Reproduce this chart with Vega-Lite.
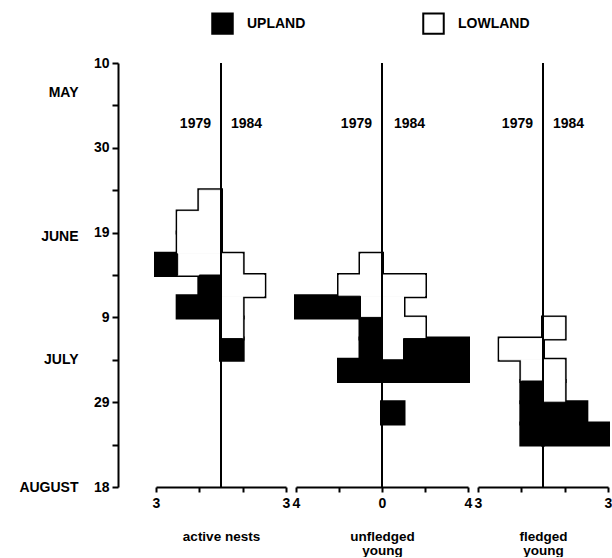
{
  "$schema": "https://vega.github.io/schema/vega-lite/v6.json",
  "padding": {"left": 18, "top": 12, "right": 0, "bottom": 0},
  "bounds": "flush",
  "spacing": 10,
  "config": {
    "font": "Liberation Sans",
    "view": {"stroke": null},
    "axis": {"grid": false, "domainColor": "black", "tickColor": "black", "labelColor": "black", "titleColor": "black", "domainWidth": 2, "tickWidth": 2, "labelFontWeight": "bold", "labelFontSize": 14, "titleFontWeight": "bold", "titleFontSize": 13.5, "labelOverlap": false}
  },
  "datasets": {
    "bars": [
      {"panel": "active nests", "year": 1979, "area": "LOWLAND", "start": "1984-06-09", "end": "1984-06-14", "count": 1},
      {"panel": "active nests", "year": 1979, "area": "LOWLAND", "start": "1984-06-14", "end": "1984-06-19", "count": 2},
      {"panel": "active nests", "year": 1979, "area": "LOWLAND", "start": "1984-06-19", "end": "1984-06-24", "count": 2},
      {"panel": "active nests", "year": 1979, "area": "LOWLAND", "start": "1984-06-24", "end": "1984-06-29", "count": 2},
      {"panel": "active nests", "year": 1979, "area": "UPLAND", "start": "1984-06-24", "end": "1984-06-29", "count": 1},
      {"panel": "active nests", "year": 1979, "area": "UPLAND", "start": "1984-06-29", "end": "1984-07-04", "count": 1},
      {"panel": "active nests", "year": 1979, "area": "UPLAND", "start": "1984-07-04", "end": "1984-07-09", "count": 2},
      {"panel": "active nests", "year": 1984, "area": "LOWLAND", "start": "1984-06-24", "end": "1984-06-29", "count": 1},
      {"panel": "active nests", "year": 1984, "area": "LOWLAND", "start": "1984-06-29", "end": "1984-07-04", "count": 2},
      {"panel": "active nests", "year": 1984, "area": "LOWLAND", "start": "1984-07-04", "end": "1984-07-09", "count": 1},
      {"panel": "active nests", "year": 1984, "area": "LOWLAND", "start": "1984-07-09", "end": "1984-07-14", "count": 1},
      {"panel": "active nests", "year": 1984, "area": "UPLAND", "start": "1984-07-14", "end": "1984-07-19", "count": 1},

      {"panel": "unfledged young", "year": 1979, "area": "LOWLAND", "start": "1984-06-24", "end": "1984-06-29", "count": 1},
      {"panel": "unfledged young", "year": 1979, "area": "LOWLAND", "start": "1984-06-29", "end": "1984-07-04", "count": 2},
      {"panel": "unfledged young", "year": 1979, "area": "LOWLAND", "start": "1984-07-04", "end": "1984-07-09", "count": 1},
      {"panel": "unfledged young", "year": 1979, "area": "UPLAND", "start": "1984-07-04", "end": "1984-07-09", "count": 3},
      {"panel": "unfledged young", "year": 1979, "area": "UPLAND", "start": "1984-07-09", "end": "1984-07-14", "count": 1},
      {"panel": "unfledged young", "year": 1979, "area": "UPLAND", "start": "1984-07-14", "end": "1984-07-19", "count": 1},
      {"panel": "unfledged young", "year": 1979, "area": "UPLAND", "start": "1984-07-19", "end": "1984-07-24", "count": 2},
      {"panel": "unfledged young", "year": 1984, "area": "LOWLAND", "start": "1984-06-29", "end": "1984-07-04", "count": 2},
      {"panel": "unfledged young", "year": 1984, "area": "LOWLAND", "start": "1984-07-04", "end": "1984-07-09", "count": 1},
      {"panel": "unfledged young", "year": 1984, "area": "LOWLAND", "start": "1984-07-09", "end": "1984-07-14", "count": 2},
      {"panel": "unfledged young", "year": 1984, "area": "LOWLAND", "start": "1984-07-14", "end": "1984-07-19", "count": 1},
      {"panel": "unfledged young", "year": 1984, "area": "UPLAND", "start": "1984-07-14", "end": "1984-07-19", "count": 3},
      {"panel": "unfledged young", "year": 1984, "area": "UPLAND", "start": "1984-07-19", "end": "1984-07-24", "count": 4},
      {"panel": "unfledged young", "year": 1984, "area": "UPLAND", "start": "1984-07-29", "end": "1984-08-03", "count": 1},

      {"panel": "fledged young", "year": 1979, "area": "LOWLAND", "start": "1984-07-14", "end": "1984-07-19", "count": 2},
      {"panel": "fledged young", "year": 1979, "area": "LOWLAND", "start": "1984-07-19", "end": "1984-07-24", "count": 1},
      {"panel": "fledged young", "year": 1979, "area": "UPLAND", "start": "1984-07-24", "end": "1984-07-29", "count": 1},
      {"panel": "fledged young", "year": 1979, "area": "UPLAND", "start": "1984-07-29", "end": "1984-08-03", "count": 1},
      {"panel": "fledged young", "year": 1979, "area": "UPLAND", "start": "1984-08-03", "end": "1984-08-08", "count": 1},
      {"panel": "fledged young", "year": 1984, "area": "LOWLAND", "start": "1984-07-09", "end": "1984-07-14", "count": 1},
      {"panel": "fledged young", "year": 1984, "area": "LOWLAND", "start": "1984-07-19", "end": "1984-07-24", "count": 1},
      {"panel": "fledged young", "year": 1984, "area": "LOWLAND", "start": "1984-07-24", "end": "1984-07-29", "count": 1},
      {"panel": "fledged young", "year": 1984, "area": "UPLAND", "start": "1984-07-29", "end": "1984-08-03", "count": 2},
      {"panel": "fledged young", "year": 1984, "area": "UPLAND", "start": "1984-08-03", "end": "1984-08-08", "count": 3}
    ]
  },
  "hconcat": [
    {
      "width": 130,
      "height": 424,
      "resolve": {"axis": {"y": "independent"}},
      "layer": [
        {
          "data": {"name": "bars"},
          "transform": [
            {"filter": "datum.panel == 'active nests'"},
            {"calculate": "datum.year == 1979 ? -datum.count : datum.count", "as": "value"},
            {"stack": "value", "groupby": ["year", "start"], "sort": [{"field": "area", "order": "ascending"}], "as": ["x0", "x1"]}
          ],
          "mark": {"type": "rect", "fill": "black", "stroke": "black", "strokeWidth": 4},
          "encoding": {
            "x": {"field": "x0", "type": "quantitative", "scale": {"domain": [-3, 3], "nice": false, "zero": false},
              "axis": {"values": [-3, -2, -1, 0, 1, 2, 3], "labelExpr": "abs(datum.value) == 3 || datum.value == 0 ? '' + abs(datum.value) : ''", "labelFlush": false, "tickSize": 5, "labelPadding": 4, "title": "active nests", "titlePadding": 19,
                "encode": {"ticks": {"update": {"y": {"signal": "abs(datum.value) == 3 ? -5 : 0"}}}}}},
            "x2": {"field": "x1"},
            "y": {"field": "start", "type": "temporal",
              "scale": {"type": "utc", "domain": [{"year": 1984, "month": "may", "date": 10, "utc": true}, {"year": 1984, "month": "aug", "date": 18, "utc": true}], "reverse": true},
              "axis": {"orient": "left", "values": [
                {"year": 1984, "month": "may", "date": 10, "utc": true}, {"year": 1984, "month": "may", "date": 20, "utc": true},
                {"year": 1984, "month": "may", "date": 30, "utc": true}, {"year": 1984, "month": "jun", "date": 9, "utc": true},
                {"year": 1984, "month": "jun", "date": 19, "utc": true}, {"year": 1984, "month": "jun", "date": 29, "utc": true},
                {"year": 1984, "month": "jul", "date": 9, "utc": true}, {"year": 1984, "month": "jul", "date": 19, "utc": true},
                {"year": 1984, "month": "jul", "date": 29, "utc": true}, {"year": 1984, "month": "aug", "date": 8, "utc": true},
                {"year": 1984, "month": "aug", "date": 18, "utc": true}],
                "labelExpr": "round((datum.value - utc(1984, 4, 10)) / 864e5) % 20 == 0 ? '' + utcdate(datum.value) : ''",
                "offset": 38, "tickSize": 6, "labelPadding": 3, "title": null}},
            "y2": {"field": "end"}
          }
        },
        {
          "data": {"name": "bars"},
          "transform": [
            {"filter": "datum.panel == 'active nests'"},
            {"calculate": "datum.year == 1979 ? -datum.count : datum.count", "as": "value"},
            {"stack": "value", "groupby": ["year", "start"], "sort": [{"field": "area", "order": "ascending"}], "as": ["x0", "x1"]}
          ],
          "mark": {"type": "rect", "strokeWidth": 1},
          "encoding": {
            "x": {"field": "x0", "type": "quantitative"},
            "x2": {"field": "x1"},
            "y": {"field": "start", "type": "temporal", "axis": null},
            "y2": {"field": "end"},
            "stroke": {"condition": {"test": "datum.area == 'UPLAND'", "value": "black"}, "value": "white"},
            "fill": {"field": "area", "type": "nominal", "scale": {"domain": ["UPLAND", "LOWLAND"], "range": ["black", "white"]},
              "legend": {"orient": "none", "legendX": 55, "legendY": -51, "direction": "horizontal", "title": null, "symbolType": "square", "symbolSize": 420, "symbolStrokeColor": "black", "symbolStrokeWidth": 2, "labelFontSize": 14, "labelFontWeight": "bold", "labelColor": "black", "columnPadding": 113, "labelOffset": 13}}
          }
        },
        {
          "data": {"values": [{}]},
          "mark": {"type": "rule", "color": "black", "strokeWidth": 2},
          "encoding": {
            "x": {"datum": 0, "type": "quantitative"},
            "y": {"datum": {"year": 1984, "month": "may", "date": 10, "utc": true}, "type": "temporal",
              "axis": {"orient": "left", "values": [{"year": 1984, "month": "may", "date": 17, "utc": true}, {"year": 1984, "month": "jun", "date": 20, "utc": true}, {"year": 1984, "month": "jul", "date": 19, "utc": true}, {"year": 1984, "month": "aug", "date": 18, "utc": true}],
                "labelExpr": "['JAN','FEB','MAR','APR','MAY','JUNE','JULY','AUGUST'][utcmonth(datum.value)]",
                "offset": 78, "domain": false, "ticks": false, "tickSize": 0, "labelPadding": 0, "title": null}},
            "y2": {"datum": {"year": 1984, "month": "aug", "date": 18, "utc": true}}
          }
        },
        {
          "data": {"values": [{}]},
          "mark": {"type": "text", "align": "right", "baseline": "middle", "dx": -10, "dy": 2, "fontSize": 14, "fontWeight": "bold", "color": "black"},
          "encoding": {
            "x": {"datum": 0, "type": "quantitative"},
            "y": {"datum": {"year": 1984, "month": "may", "date": 24, "utc": true}, "type": "temporal", "axis": null},
            "text": {"value": "1979"}
          }
        },
        {
          "data": {"values": [{}]},
          "mark": {"type": "text", "align": "left", "baseline": "middle", "dx": 10, "dy": 2, "fontSize": 14, "fontWeight": "bold", "color": "black"},
          "encoding": {
            "x": {"datum": 0, "type": "quantitative"},
            "y": {"datum": {"year": 1984, "month": "may", "date": 24, "utc": true}, "type": "temporal", "axis": null},
            "text": {"value": "1984"}
          }
        }
      ]
    },
    {
      "width": 172,
      "height": 424,
      "layer": [
        {
          "data": {"name": "bars"},
          "transform": [
            {"filter": "datum.panel == 'unfledged young'"},
            {"calculate": "datum.year == 1979 ? -datum.count : datum.count", "as": "value"},
            {"stack": "value", "groupby": ["year", "start"], "sort": [{"field": "area", "order": "ascending"}], "as": ["x0", "x1"]}
          ],
          "mark": {"type": "rect", "fill": "black", "stroke": "black", "strokeWidth": 4},
          "encoding": {
            "x": {"field": "x0", "type": "quantitative", "scale": {"domain": [-4, 4], "nice": false, "zero": false},
              "axis": {"values": [-4, -3, -2, -1, 0, 1, 2, 3, 4], "labelExpr": "abs(datum.value) == 4 || datum.value == 0 ? '' + abs(datum.value) : ''", "labelFlush": false, "tickSize": 5, "labelPadding": 4,
                "title": ["unfledged\u00a0\u00a0\u00a0\u00a0", "\u00a0\u00a0\u00a0\u00a0\u00a0\u00a0\u00a0\u00a0\u00a0\u00a0young"], "titlePadding": 19, "titleLineHeight": 14,
                "encode": {"ticks": {"update": {"y": {"signal": "abs(datum.value) == 4 ? -5 : 0"}}}}}},
            "x2": {"field": "x1"},
            "y": {"field": "start", "type": "temporal",
              "scale": {"type": "utc", "domain": [{"year": 1984, "month": "may", "date": 10, "utc": true}, {"year": 1984, "month": "aug", "date": 18, "utc": true}], "reverse": true},
              "axis": null},
            "y2": {"field": "end"}
          }
        },
        {
          "data": {"name": "bars"},
          "transform": [
            {"filter": "datum.panel == 'unfledged young'"},
            {"calculate": "datum.year == 1979 ? -datum.count : datum.count", "as": "value"},
            {"stack": "value", "groupby": ["year", "start"], "sort": [{"field": "area", "order": "ascending"}], "as": ["x0", "x1"]}
          ],
          "mark": {"type": "rect", "strokeWidth": 1},
          "encoding": {
            "x": {"field": "x0", "type": "quantitative"},
            "x2": {"field": "x1"},
            "y": {"field": "start", "type": "temporal", "axis": null},
            "y2": {"field": "end"},
            "stroke": {"condition": {"test": "datum.area == 'UPLAND'", "value": "black"}, "value": "white"},
            "fill": {"field": "area", "type": "nominal", "scale": {"domain": ["UPLAND", "LOWLAND"], "range": ["black", "white"]},
              "legend": {"orient": "none", "legendX": 55, "legendY": -51, "direction": "horizontal", "title": null, "symbolType": "square", "symbolSize": 420, "symbolStrokeColor": "black", "symbolStrokeWidth": 2, "labelFontSize": 14, "labelFontWeight": "bold", "labelColor": "black", "columnPadding": 113, "labelOffset": 13}}
          }
        },
        {
          "data": {"values": [{}]},
          "mark": {"type": "rule", "color": "black", "strokeWidth": 2},
          "encoding": {
            "x": {"datum": 0, "type": "quantitative"},
            "y": {"datum": {"year": 1984, "month": "may", "date": 10, "utc": true}, "type": "temporal"},
            "y2": {"datum": {"year": 1984, "month": "aug", "date": 18, "utc": true}}
          }
        },
        {
          "data": {"values": [{}]},
          "mark": {"type": "text", "align": "right", "baseline": "middle", "dx": -10, "dy": 2, "fontSize": 14, "fontWeight": "bold", "color": "black"},
          "encoding": {
            "x": {"datum": 0, "type": "quantitative"},
            "y": {"datum": {"year": 1984, "month": "may", "date": 24, "utc": true}, "type": "temporal"},
            "text": {"value": "1979"}
          }
        },
        {
          "data": {"values": [{}]},
          "mark": {"type": "text", "align": "left", "baseline": "middle", "dx": 12, "dy": 2, "fontSize": 14, "fontWeight": "bold", "color": "black"},
          "encoding": {
            "x": {"datum": 0, "type": "quantitative"},
            "y": {"datum": {"year": 1984, "month": "may", "date": 24, "utc": true}, "type": "temporal"},
            "text": {"value": "1984"}
          }
        }
      ]
    },
    {
      "width": 130,
      "height": 424,
      "layer": [
        {
          "data": {"name": "bars"},
          "transform": [
            {"filter": "datum.panel == 'fledged young'"},
            {"calculate": "datum.year == 1979 ? -datum.count : datum.count", "as": "value"},
            {"stack": "value", "groupby": ["year", "start"], "sort": [{"field": "area", "order": "ascending"}], "as": ["x0", "x1"]}
          ],
          "mark": {"type": "rect", "fill": "black", "stroke": "black", "strokeWidth": 4},
          "encoding": {
            "x": {"field": "x0", "type": "quantitative", "scale": {"domain": [-3, 3], "nice": false, "zero": false},
              "axis": {"values": [-3, -2, -1, 0, 1, 2, 3], "labelExpr": "abs(datum.value) == 3 || datum.value == 0 ? '' + abs(datum.value) : ''", "labelFlush": false, "tickSize": 5, "labelPadding": 4,
                "title": ["fledged\u00a0\u00a0\u00a0\u00a0\u00a0", "\u00a0\u00a0\u00a0\u00a0\u00a0\u00a0young"], "titlePadding": 19, "titleLineHeight": 14,
                "encode": {"ticks": {"update": {"y": {"signal": "abs(datum.value) == 3 ? -5 : 0"}}}}}},
            "x2": {"field": "x1"},
            "y": {"field": "start", "type": "temporal",
              "scale": {"type": "utc", "domain": [{"year": 1984, "month": "may", "date": 10, "utc": true}, {"year": 1984, "month": "aug", "date": 18, "utc": true}], "reverse": true},
              "axis": null},
            "y2": {"field": "end"}
          }
        },
        {
          "data": {"name": "bars"},
          "transform": [
            {"filter": "datum.panel == 'fledged young'"},
            {"calculate": "datum.year == 1979 ? -datum.count : datum.count", "as": "value"},
            {"stack": "value", "groupby": ["year", "start"], "sort": [{"field": "area", "order": "ascending"}], "as": ["x0", "x1"]}
          ],
          "mark": {"type": "rect", "strokeWidth": 1},
          "encoding": {
            "x": {"field": "x0", "type": "quantitative"},
            "x2": {"field": "x1"},
            "y": {"field": "start", "type": "temporal", "axis": null},
            "y2": {"field": "end"},
            "stroke": {"condition": {"test": "datum.area == 'UPLAND'", "value": "black"}, "value": "white"},
            "fill": {"field": "area", "type": "nominal", "scale": {"domain": ["UPLAND", "LOWLAND"], "range": ["black", "white"]},
              "legend": {"orient": "none", "legendX": 55, "legendY": -51, "direction": "horizontal", "title": null, "symbolType": "square", "symbolSize": 420, "symbolStrokeColor": "black", "symbolStrokeWidth": 2, "labelFontSize": 14, "labelFontWeight": "bold", "labelColor": "black", "columnPadding": 113, "labelOffset": 13}}
          }
        },
        {
          "data": {"values": [{}]},
          "mark": {"type": "rule", "color": "black", "strokeWidth": 2},
          "encoding": {
            "x": {"datum": 0, "type": "quantitative"},
            "y": {"datum": {"year": 1984, "month": "may", "date": 10, "utc": true}, "type": "temporal"},
            "y2": {"datum": {"year": 1984, "month": "aug", "date": 18, "utc": true}}
          }
        },
        {
          "data": {"values": [{}]},
          "mark": {"type": "text", "align": "right", "baseline": "middle", "dx": -10, "dy": 2, "fontSize": 14, "fontWeight": "bold", "color": "black"},
          "encoding": {
            "x": {"datum": 0, "type": "quantitative"},
            "y": {"datum": {"year": 1984, "month": "may", "date": 24, "utc": true}, "type": "temporal"},
            "text": {"value": "1979"}
          }
        },
        {
          "data": {"values": [{}]},
          "mark": {"type": "text", "align": "left", "baseline": "middle", "dx": 10, "dy": 2, "fontSize": 14, "fontWeight": "bold", "color": "black"},
          "encoding": {
            "x": {"datum": 0, "type": "quantitative"},
            "y": {"datum": {"year": 1984, "month": "may", "date": 24, "utc": true}, "type": "temporal"},
            "text": {"value": "1984"}
          }
        }
      ]
    }
  ]
}
